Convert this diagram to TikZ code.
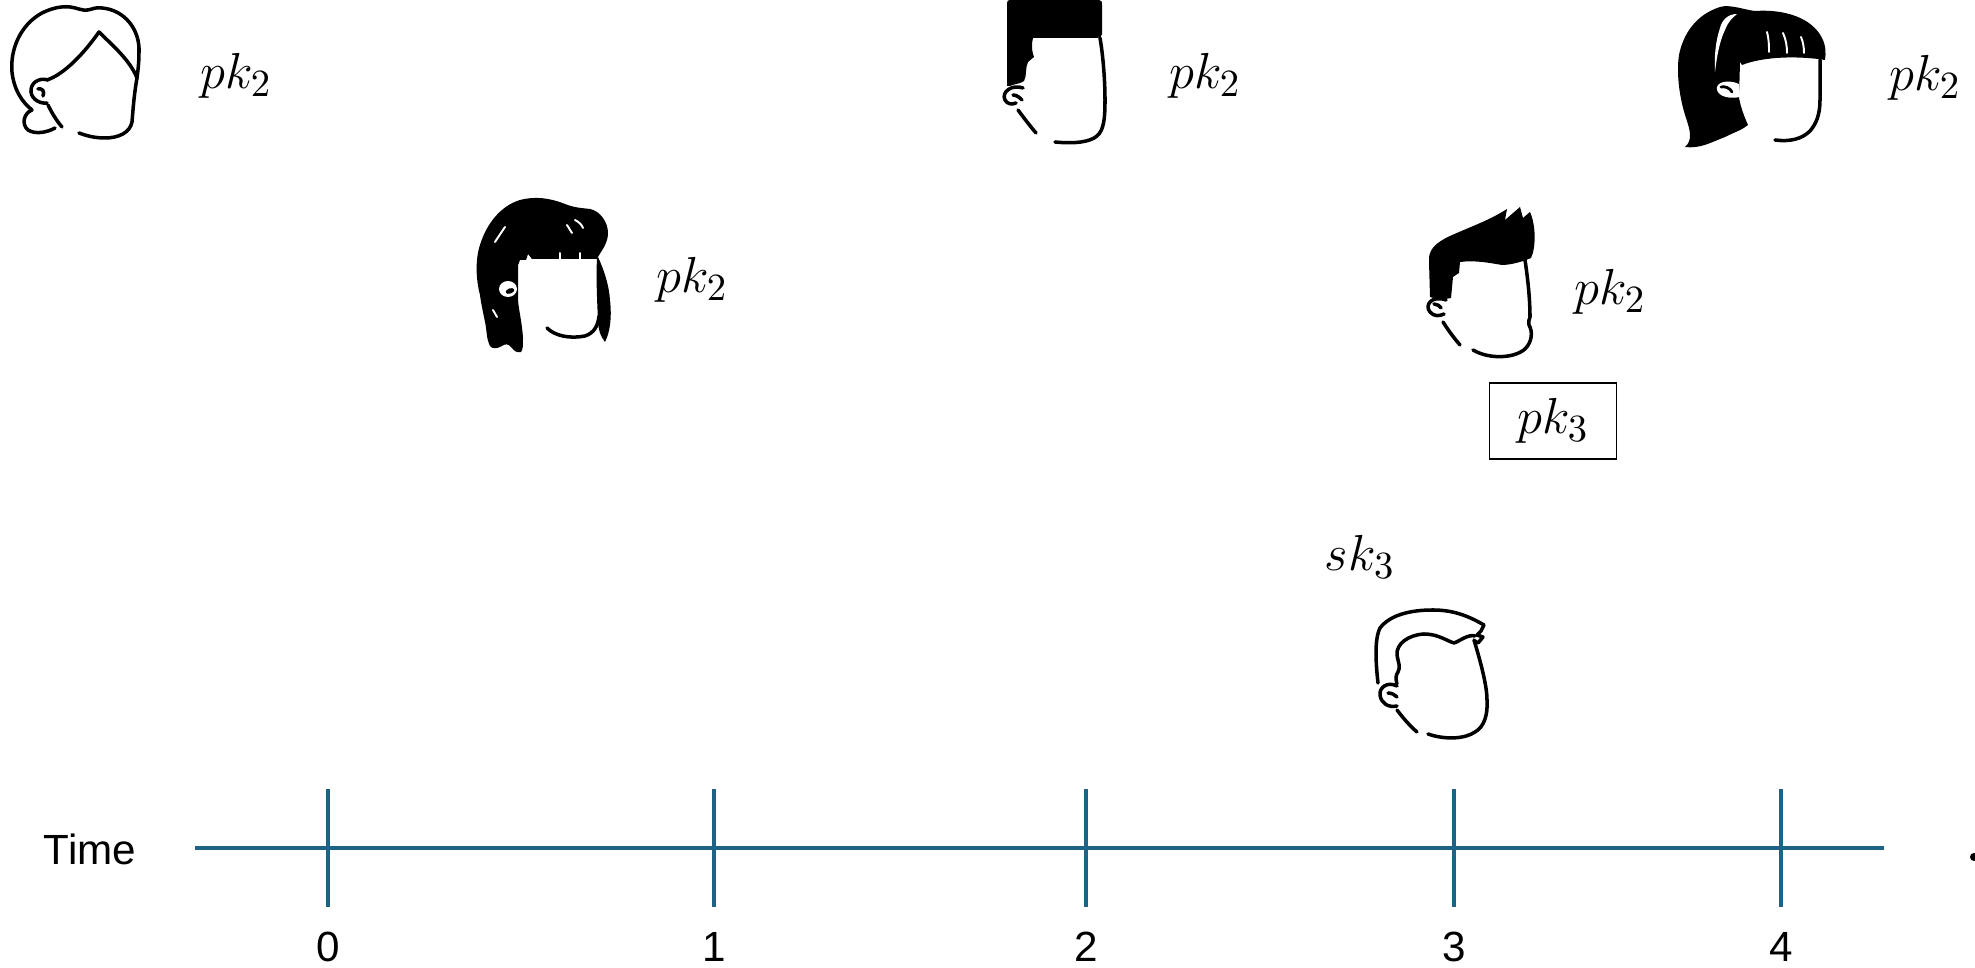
\documentclass[tikz,border=0pt]{standalone}
\usepackage{fontspec}
\setsansfont{Liberation Sans}
\definecolor{axisblue}{RGB}{29,99,133}
\begin{document}
\begin{tikzpicture}[x=0.01cm,y=-0.01cm,
  outline/.style={line width=1pt, line cap=round, line join=round},
  hairfill/.style={fill=black},
  strand/.style={white, line width=0.55pt, line cap=round},
  key/.style={font=\fontsize{15}{18}\selectfont, inner sep=0pt},
  keybox/.style={key, draw, line width=0.4pt, minimum width=1.27cm, minimum height=0.76cm},
  axisline/.style={draw=axisblue, line width=1.2pt},
  axislbl/.style={font=\sffamily\fontsize{12}{14}\selectfont, inner sep=0pt},
]
\useasboundingbox (0,0) rectangle (1975,968);

% ---------- person 1: outlined bob ----------
\draw[outline] (32,110) .. controls (22,102) and (14,90) .. (12,72)
  .. controls (10,50) and (20,25) .. (42,13) .. controls (52,8) and (62,6) .. (70,7)
  .. controls (78,8) and (82,11) .. (88,10) .. controls (93,9) and (96,7) .. (102,8)
  .. controls (125,10) and (140,30) .. (139,52) .. controls (139,63) and (138,70) .. (137,78);
\draw[outline] (137,78) .. controls (134,95) and (133,110) .. (132,122)
  .. controls (130,133) and (118,138) .. (105,138) .. controls (95,138) and (87,136) .. (79,133);
\draw[outline] (47,80) .. controls (65,74) and (85,52) .. (99,32)
  .. controls (112,45) and (130,60) .. (137,78);
\draw[outline] (48,80) .. controls (38,77) and (30,84) .. (31,92)
  .. controls (32,100) and (41,104) .. (47,103);
\draw[outline] (38,89) .. controls (42,88) and (45,91) .. (43,96);
\draw[outline] (32,110) .. controls (24,113) and (21,124) .. (28,130)
  .. controls (36,135) and (48,132) .. (55,128);
\draw[outline] (48,105) .. controls (52,113) and (56,120) .. (62,127);
\node[key] (k1) at (236,76) {$pk_2$};

% ---------- person 2: dark bob with bangs ----------
\fill[hairfill] (480,295) .. controls (476,280) and (475,260) .. (480,245)
  .. controls (486,225) and (500,206) .. (520,200) .. controls (535,196) and (550,198) .. (565,204)
  .. controls (575,208) and (582,208) .. (590,209) .. controls (600,211) and (608,222) .. (608,233)
  .. controls (608,243) and (602,250) .. (598,257) .. controls (604,270) and (609,285) .. (610,300)
  .. controls (612,318) and (610,332) .. (605,342) .. controls (600,336) and (598,328) .. (598,320)
  .. controls (597,300) and (596,275) .. (597,259)
  -- (532,259) -- (528,254) -- (526,260) -- (520,260) .. controls (518,263) and (518,266) .. (518,270)
  -- (518,300) .. controls (519,312) and (522,322) .. (523,338)
  .. controls (523,345) and (523,350) .. (521,352) .. controls (517,353) and (514,351) .. (512,348)
  .. controls (508,343) and (505,344) .. (502,346) .. controls (497,349) and (492,349) .. (490,346)
  .. controls (486,338) and (487,330) .. (485,322) .. controls (483,312) and (481,303) .. (480,295) -- cycle;
\draw[outline] (547,328) .. controls (555,336) and (570,339) .. (585,336)
  .. controls (594,333) and (598,326) .. (599,316);
\fill[white] (508,289) ellipse (9 and 8);
\fill[rotate around={20:(510,291)}] (510,291) ellipse (4.5 and 2.6);
\draw[strand] (495,242) -- (505,227);
\draw[strand] (567,225) -- (572,233);
\draw[strand] (575,220) .. controls (579,222) and (582,225) .. (583,228);
\draw[strand] (493,310) -- (497,317);
\draw[strand] (560,253) -- (560,259);
\draw[strand] (580,253) -- (580,259);
\node[key] (k2) at (692,280) {$pk_2$};

% ---------- person 3: flat top ----------
\fill[hairfill] (1010,0) -- (1099,0) .. controls (1102,0) and (1102,2) .. (1102,5)
  -- (1102,34) .. controls (1102,37) and (1100,38) .. (1097,38)
  -- (1033,38) .. controls (1031,45) and (1032,52) .. (1034,57)
  -- (1028,62) .. controls (1025,68) and (1027,76) .. (1024,81)
  .. controls (1020,84) and (1014,84) .. (1010,86) -- (1007,86) -- (1007,3)
  .. controls (1007,1) and (1008,0) .. (1010,0) -- cycle;
\draw[outline] (1023,88) .. controls (1012,84) and (1001,92) .. (1005,100)
  .. controls (1007,104) and (1012,105) .. (1016,103);
\draw[outline] (1013,95) .. controls (1017,95) and (1020,98) .. (1022,100);
\draw[outline] (1018,110) .. controls (1024,118) and (1030,126) .. (1036,133);
\draw[outline] (1100,38) .. controls (1103,55) and (1105,80) .. (1105,100)
  .. controls (1105,118) and (1104,130) .. (1097,136)
  .. controls (1090,142) and (1075,144) .. (1055,142);
\node[key] (k3) at (1205,76) {$pk_2$};

% ---------- person 4: ponytail ----------
\fill[hairfill] (1685,147) .. controls (1693,140) and (1690,130) .. (1686,118)
  .. controls (1680,100) and (1676,75) .. (1679,55)
  .. controls (1683,35) and (1695,15) .. (1720,7) .. controls (1730,4) and (1745,10) .. (1755,11)
  .. controls (1785,9) and (1812,18) .. (1822,38) .. controls (1826,46) and (1826,53) .. (1825,60)
  .. controls (1800,56) and (1765,56) .. (1742,65) -- (1740,62) -- (1739,98)
  .. controls (1741,108) and (1744,116) .. (1748,125)
  .. controls (1742,130) and (1735,132) .. (1725,137)
  .. controls (1712,142) and (1700,149) .. (1685,147) -- cycle;
\fill[white] (1737,14) .. controls (1728,14) and (1722,20) .. (1720,28)
  .. controls (1716,40) and (1714,55) .. (1715,72)
  .. controls (1717,55) and (1720,40) .. (1725,30)
  .. controls (1728,22) and (1732,18) .. (1737,14) -- cycle;
\draw[strand] (1767,32) .. controls (1769,40) and (1769,46) .. (1769,52);
\draw[strand] (1783,33) .. controls (1786,40) and (1787,46) .. (1787,53);
\draw[strand] (1801,37) .. controls (1803,42) and (1804,47) .. (1804,53);
\fill[white] (1739,84) .. controls (1728,79) and (1715,82) .. (1717,90)
  .. controls (1719,97) and (1730,99) .. (1740,97) -- cycle;
\draw[outline, line width=0.8pt] (1721,87) .. controls (1725,86) and (1730,88) .. (1732,92);
\draw[outline] (1820,60) -- (1820,100) .. controls (1820,115) and (1816,124) .. (1810,131)
  .. controls (1802,139) and (1790,142) .. (1775,140);
\node[key] (k4) at (1925,78) {$pk_2$};

% ---------- person 5: spiky quiff ----------
\fill[hairfill] (1430,297) -- (1429,262) .. controls (1428,250) and (1435,243) .. (1450,236)
  .. controls (1470,227) and (1490,220) .. (1507,209) -- (1505,220)
  -- (1520,207) -- (1523,218) -- (1530,212)
  .. controls (1536,225) and (1536,248) .. (1531,258)
  .. controls (1522,262) and (1510,265) .. (1502,265)
  .. controls (1490,263) and (1475,260) .. (1460,262)
  -- (1459,273) -- (1453,277) -- (1451,298) -- (1440,300) -- cycle;
\draw[outline] (1446,300) .. controls (1432,295) and (1424,305) .. (1430,312)
  .. controls (1434,317) and (1440,316) .. (1444,314);
\draw[outline] (1434,304) .. controls (1437,304) and (1440,306) .. (1441,308);
\draw[outline] (1443,322) .. controls (1448,330) and (1454,338) .. (1460,345);
\draw[outline] (1525,260) .. controls (1528,280) and (1530,300) .. (1530,317)
  .. controls (1529,320) and (1528,322) .. (1529,325)
  .. controls (1533,332) and (1532,342) .. (1525,349)
  .. controls (1515,358) and (1490,360) .. (1473,350);
\node[key] (k5) at (1610,292) {$pk_2$};
\node[keybox] (k6) at (1553,421) {$pk_3$};

% ---------- person 6: outlined short hair ----------
\node[key] (s3) at (1360,557) {$sk_3$};
\draw[outline] (1378,683) .. controls (1376,665) and (1374,640) .. (1380,628)
  .. controls (1390,615) and (1410,610) .. (1433,610)
  .. controls (1455,610) and (1470,617) .. (1484,625)
  -- (1481,631) -- (1477,635) -- (1483,637) -- (1478,643) -- (1475,641);
\draw[outline] (1475,636) .. controls (1468,634) and (1460,641) .. (1454,643)
  .. controls (1447,641) and (1438,634) .. (1424,634)
  .. controls (1408,635) and (1396,644) .. (1397,655)
  .. controls (1398,662) and (1401,667) .. (1398,672)
  .. controls (1395,676) and (1396,680) .. (1397,684);
\draw[outline] (1474,640) .. controls (1480,660) and (1487,685) .. (1487,700)
  .. controls (1488,715) and (1484,727) .. (1475,732)
  .. controls (1465,739) and (1445,740) .. (1428,734);
\draw[outline] (1397,686) .. controls (1387,681) and (1379,688) .. (1380,695)
  .. controls (1381,703) and (1388,708) .. (1397,706);
\draw[outline] (1388,693) .. controls (1392,693) and (1395,695) .. (1397,697);
\draw[outline] (1397,710) .. controls (1403,718) and (1410,726) .. (1417,732);

% ---------- time axis ----------
\coordinate (axL) at (195,848);
\coordinate (axR) at (1884,848);
\draw[axisline] (axL) -- (axR);
\node[axislbl] (tlabel) at (90,849) {Time};
\foreach \n/\x in {0/328, 1/714, 2/1086, 3/1454, 4/1781} {
  \coordinate (tk\n) at (\x,848);
  \draw[axisline] (\x,789) -- (\x,907);
  \node[axislbl] (lab\n) at (\x,947) {\n};
}
\fill (1974,857) circle (4);
\end{tikzpicture}
\end{document}
